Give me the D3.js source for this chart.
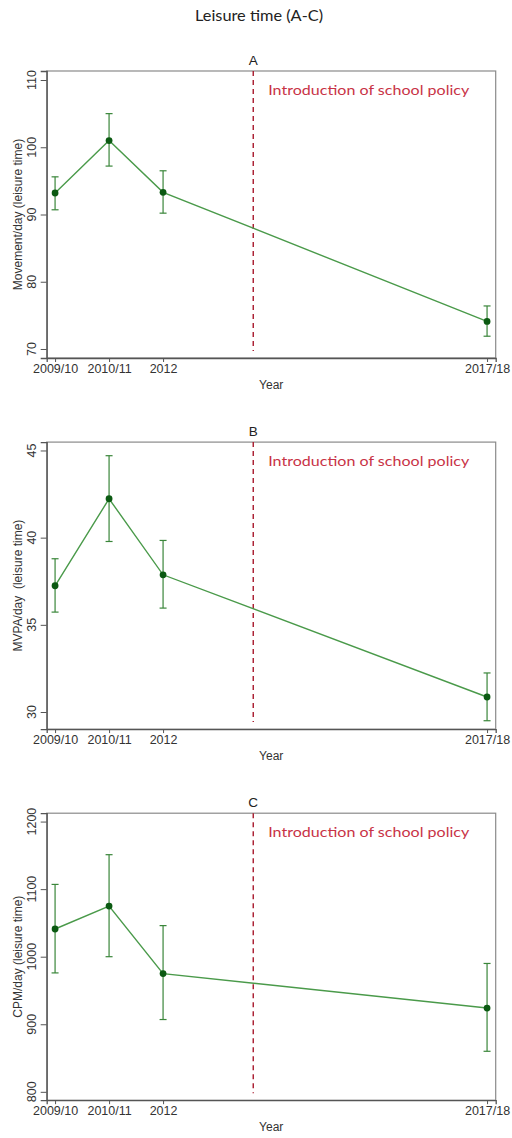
<!DOCTYPE html>
<html>
<head>
<meta charset="utf-8">
<script src="https://cdn.jsdelivr.net/npm/d3@7"></script>
<style>
  html,body{margin:0;padding:0;background:#fff;}
  svg{display:block;}
  .tick-lbl{font-family:"Liberation Sans",Arial,sans-serif;font-size:12.5px;fill:#333;}
  .axis-ttl{font-family:"Liberation Sans",Arial,sans-serif;font-size:12px;fill:#333;}
  .panel-ttl{font-family:"Liberation Sans",Arial,sans-serif;font-size:13.5px;fill:#222;}
  .main-ttl{font-family:"Lato","Open Sans",sans-serif;font-size:15px;fill:#222;}
  .policy-lbl{font-family:"Lato","Open Sans",sans-serif;font-size:14px;fill:#c83246;}
</style>
</head>
<body>
<svg id="chart" width="512" height="1138"></svg>
<script>
// x categories (survey waves) and their position on the year axis
const waves = ['2009/10','2010/11','2012','2017/18'];
const wavePos = [0, 1, 2, 8];
const policyPos = 3.67;
const xDomain = [-0.155, 8.16];

const panelTitles = ['A','B','C'];
const yTitles = ['Movement/day (leisure time)','MVPA/day  (leisure time)','CPM/day (leisure time)'];
const yTicks = [[70,80,90,100,110],[30,35,40,45],[800,900,1000,1100,1200]];
const yDomains = [[68.66,111.34],[29.02,45.48],[787.6,1212.4]];

// A: movement/day
const movMean = [93.2, 101.0, 93.3, 74.1];
const movLo   = [90.7, 97.2, 90.2, 71.9];
const movHi   = [95.6, 105.0, 96.5, 76.4];
// B: MVPA/day
const mvpaMean = [37.24, 42.23, 37.87, 30.86];
const mvpaLo   = [35.73, 39.78, 35.96, 29.50];
const mvpaHi   = [38.79, 44.70, 39.84, 32.24];
// C: CPM/day
const cpmMean = [1041, 1075, 975, 924];
const cpmLo   = [976, 1000, 907, 860];
const cpmHi   = [1107, 1151, 1046, 990];

const means = [movMean, mvpaMean, cpmMean];
const lows = [movLo, mvpaLo, cpmLo];
const highs = [movHi, mvpaHi, cpmHi];

const svg = d3.select('#chart');
const boxL = 46.7, boxR = 495.7, boxH = 287;
const panelTop0 = 71, panelStep = 371.1;

svg.append('text').attr('class','main-ttl')
  .attr('x',259).attr('y',21).attr('text-anchor','middle')
  .attr('textLength',128).attr('lengthAdjust','spacingAndGlyphs')
  .text('Leisure time (A-C)');

const x = d3.scaleLinear().domain(xDomain).range([boxL, boxR]);

panelTitles.forEach((ttl,i)=>{
  const top = panelTop0 + i*panelStep;
  const bot = top + boxH;
  const y = d3.scaleLinear().domain(yDomains[i]).range([bot, top]);
  const g = svg.append('g');

  // plot region box
  g.append('rect').attr('x',boxL).attr('y',top).attr('width',boxR-boxL).attr('height',boxH)
    .attr('fill','none').attr('stroke','#8a8a8a').attr('stroke-width',1.2);

  // y axis
  const yAx = g.append('g').attr('transform',`translate(${boxL},0)`)
    .call(d3.axisLeft(y).tickValues(yTicks[i]).tickSize(6).tickFormat(''));
  yAx.select('.domain').attr('stroke','#555').attr('stroke-width',1.3);
  yAx.selectAll('.tick line').attr('stroke','#555');
  g.selectAll('text.ytick').data(yTicks[i]).enter().append('text')
    .attr('class','tick-lbl')
    .attr('transform',d=>`translate(36,${y(d)}) rotate(-90)`)
    .attr('text-anchor','middle')
    .text(d=>d);

  // x axis
  const xAx = g.append('g').attr('transform',`translate(0,${bot})`)
    .call(d3.axisBottom(x).tickValues(wavePos).tickSize(4).tickFormat((d,k)=>waves[k]));
  xAx.select('.domain').attr('stroke','#555').attr('stroke-width',1.3);
  xAx.selectAll('.tick line').attr('stroke','#555');
  xAx.selectAll('.tick text').attr('class','tick-lbl').attr('dy',0).attr('y',15)
    .style('font-size','12.5px').style('font-family','"Liberation Sans",Arial,sans-serif').attr('fill','#333');

  g.append('text').attr('class','axis-ttl')
    .attr('x',(boxL+boxR)/2).attr('y',bot+31).attr('text-anchor','middle').text('Year');
  g.append('text').attr('class','axis-ttl')
    .attr('transform',`translate(22,${(top+bot)/2}) rotate(-90)`)
    .attr('text-anchor','middle').style('white-space','pre').text(yTitles[i]);

  g.append('text').attr('class','panel-ttl')
    .attr('x',x(policyPos)).attr('y',top-6).attr('text-anchor','middle').text(ttl);

  // policy line
  g.append('line').attr('x1',x(policyPos)).attr('x2',x(policyPos))
    .attr('y1',top).attr('y2',bot-7)
    .attr('stroke','#a8182c').attr('stroke-width',1.4).attr('stroke-dasharray','5,4');
  g.append('text').attr('class','policy-lbl')
    .attr('x',x(policyPos)+15).attr('y',top+24)
    .attr('textLength',201).attr('lengthAdjust','spacingAndGlyphs')
    .text('Introduction of school policy');

  const pts = wavePos.map((p,k)=>({x:p, m:means[i][k], lo:lows[i][k], hi:highs[i][k]}));

  // connecting line
  g.append('path').datum(pts)
    .attr('fill','none').attr('stroke','#4a9a4a').attr('stroke-width',1.4)
    .attr('d', d3.line().x(d=>x(d.x)).y(d=>y(d.m)));

  // CI bars
  const ci = g.append('g').attr('stroke','#3a863a').attr('stroke-width',1.2);
  ci.selectAll('line.v').data(pts).enter().append('line')
    .attr('x1',d=>x(d.x)).attr('x2',d=>x(d.x)).attr('y1',d=>y(d.lo)).attr('y2',d=>y(d.hi));
  ['lo','hi'].forEach(key=>{
    ci.selectAll('line.c'+key).data(pts).enter().append('line')
      .attr('x1',d=>x(d.x)-3.5).attr('x2',d=>x(d.x)+3.5)
      .attr('y1',d=>y(d[key])).attr('y2',d=>y(d[key]));
  });

  // markers
  g.selectAll('circle.pt').data(pts).enter().append('circle')
    .attr('cx',d=>x(d.x)).attr('cy',d=>y(d.m)).attr('r',3.4)
    .attr('fill','#0b5a12');
});
</script>
</body>
</html>
